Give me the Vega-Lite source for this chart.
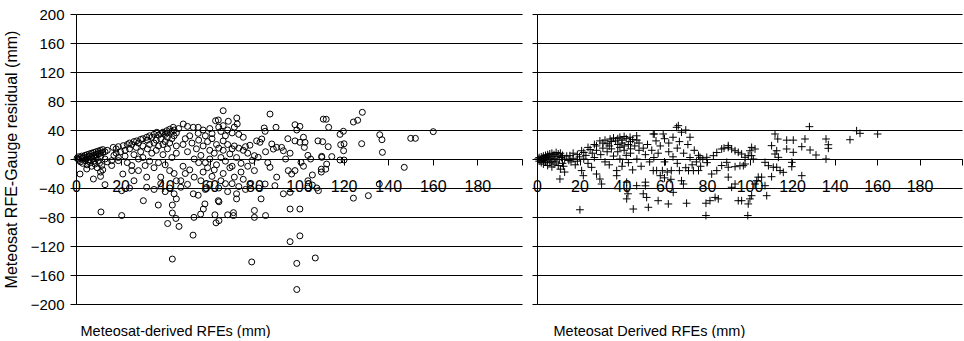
{
"$schema":"https://vega.github.io/schema/vega-lite/v6.json",
"background":"white",
"padding":{"left":3,"top":7,"right":0,"bottom":0},
"spacing":15,
"bounds":"flush",
"config":{"view":{"stroke":null},"font":"Liberation Sans",
"axis":{"labelFont":"Liberation Sans","titleFont":"Liberation Sans","labelFontSize":15,"titleFontSize":14.5,"titleFontWeight":"normal","labelColor":"#000","titleColor":"#000","domainColor":"#000","tickColor":"#000","gridColor":"#000","gridOpacity":1,"grid":false}},
"datasets":{
"L":[
{"x":0.5,"y":1},{"x":1,"y":0},{"x":1,"y":3},{"x":1.5,"y":-2},{"x":2,"y":2},{"x":2,"y":-4},{"x":2.5,"y":4},{"x":3,"y":1},{"x":3,"y":-6},{"x":3.5,"y":3},{"x":4,"y":5},{"x":4,"y":-2},{"x":4.5,"y":0},{"x":5,"y":6},{"x":5,"y":2},{"x":5,"y":-8},{"x":5.5,"y":-3},{"x":6,"y":7},{"x":6,"y":4},{"x":6,"y":-1},{"x":6.5,"y":-5},{"x":7,"y":8},{"x":7,"y":3},{"x":7,"y":-10},{"x":7.5,"y":0},{"x":8,"y":9},{"x":8,"y":5},{"x":8,"y":-3},{"x":8.5,"y":-7},{"x":9,"y":10},{"x":9,"y":6},{"x":9,"y":1},{"x":9.5,"y":-12},{"x":10,"y":11},{"x":10,"y":7},{"x":10,"y":-2},{"x":10.5,"y":-6},{"x":11,"y":12},{"x":11,"y":8},{"x":11,"y":3},{"x":11.5,"y":-9},{"x":12,"y":13},{"x":12,"y":9},{"x":12,"y":-15},{"x":13,"y":10},{"x":13,"y":0},{"x":14,"y":12},{"x":14,"y":-4},{"x":1.8,"y":-20.7},{"x":4.8,"y":-13.8},{"x":7.8,"y":-27.6},{"x":11,"y":-18},{"x":11,"y":-24},{"x":13,"y":-35.4},{"x":11.2,"y":-73},
{"x":16.7,"y":16},{"x":18,"y":14},{"x":19,"y":17},{"x":21.2,"y":18.4},{"x":23,"y":20},{"x":24,"y":22},{"x":25,"y":20},{"x":26,"y":24},{"x":27.2,"y":25},{"x":28,"y":22},{"x":29,"y":27},{"x":30,"y":28},{"x":31.7,"y":30},{"x":32,"y":26},{"x":33,"y":32},{"x":34,"y":30},{"x":35,"y":34},{"x":36.2,"y":36.8},{"x":37,"y":33},{"x":38,"y":35},{"x":39,"y":37},{"x":40,"y":34},{"x":40.7,"y":39},{"x":41,"y":36},{"x":42,"y":41},{"x":43,"y":38},{"x":43.6,"y":43.7},{"x":44,"y":40},{"x":45,"y":36},{"x":46,"y":42},
{"x":16,"y":-2.3},{"x":16,"y":-9},{"x":17,"y":5},{"x":18,"y":8},{"x":19,"y":2},{"x":19,"y":-2.3},{"x":20,"y":10},{"x":21,"y":-20.7},{"x":22,"y":12},{"x":22,"y":4},{"x":23,"y":-5},{"x":25,"y":-9},{"x":25,"y":-16},{"x":24,"y":14},{"x":26,"y":6},{"x":27,"y":16},{"x":28,"y":0},{"x":28,"y":-16},{"x":29,"y":10},{"x":30,"y":18},{"x":30,"y":2},{"x":31,"y":-9},{"x":31.7,"y":-25},{"x":32,"y":14},{"x":33,"y":20},{"x":33,"y":-3},{"x":34,"y":8},{"x":35,"y":22},{"x":35,"y":-12},{"x":36,"y":26},{"x":36,"y":12},{"x":37,"y":18},{"x":37,"y":-5},{"x":38,"y":-25},{"x":38,"y":28},{"x":38,"y":-34},{"x":39,"y":20},{"x":39,"y":6},{"x":40,"y":24},{"x":40,"y":-8},{"x":41,"y":14},{"x":41,"y":30},{"x":42,"y":-16},{"x":42,"y":22},{"x":43,"y":28},{"x":43,"y":2},{"x":44,"y":-20},{"x":44,"y":32},{"x":45,"y":18},{"x":45,"y":-30},{"x":45,"y":8},
{"x":20.5,"y":-43.7},{"x":20.5,"y":-78},{"x":30.2,"y":-57.5},{"x":31.7,"y":-39},{"x":36.9,"y":-63.5},{"x":43.2,"y":-63.5},{"x":43.2,"y":-74.5},{"x":41.1,"y":-89},{"x":44.8,"y":-82},{"x":46.2,"y":-93},{"x":43.2,"y":-138},{"x":42,"y":-40},{"x":44,"y":-48},{"x":45,"y":-55},{"x":47,"y":-30},{"x":47,"y":-39},{"x":40,"y":-45},{"x":35,"y":-42},{"x":26,"y":-30},{"x":24,"y":-40},
{"x":48.1,"y":48.3},{"x":50,"y":45},{"x":52.6,"y":43.7},{"x":54.8,"y":43.7},{"x":54.8,"y":35.4},{"x":57,"y":40},{"x":58,"y":32},{"x":60,"y":42},{"x":61,"y":35},{"x":62.6,"y":52.8},{"x":63.8,"y":53.8},{"x":64,"y":44},{"x":65,"y":38},{"x":66,"y":66.6},{"x":66,"y":46},{"x":67,"y":32},{"x":68.3,"y":52},{"x":68,"y":40},{"x":70,"y":36},{"x":71,"y":44},{"x":72.1,"y":56.6},{"x":72.3,"y":48.3},{"x":73,"y":34},{"x":75,"y":30},{"x":84.4,"y":42.8},{"x":84.8,"y":38.2},{"x":87,"y":62},{"x":89.7,"y":43.7},{"x":98.2,"y":47.3},{"x":100.4,"y":45},{"x":99,"y":40},{"x":110.9,"y":55},
{"x":48,"y":20},{"x":49,"y":28},{"x":50,"y":10},{"x":51,"y":32},{"x":52,"y":22},{"x":53,"y":0},{"x":54,"y":14},{"x":55,"y":26},{"x":56,"y":5},{"x":57,"y":18},{"x":58,"y":-5},{"x":59,"y":24},{"x":60,"y":12},{"x":60,"y":0},{"x":61,"y":28},{"x":62,"y":8},{"x":63,"y":20},{"x":63,"y":-8},{"x":64,"y":15},{"x":65,"y":2},{"x":66,"y":25},{"x":66,"y":12},{"x":67,"y":-3},{"x":68,"y":20},{"x":69,"y":7},{"x":70,"y":14},{"x":70,"y":-10},{"x":71,"y":18},{"x":72,"y":2},{"x":73,"y":15},{"x":74,"y":-6},{"x":75,"y":12},{"x":76,"y":17},{"x":77,"y":8},{"x":78,"y":19},{"x":79,"y":-2},{"x":80,"y":4.6},{"x":81,"y":25},{"x":81.7,"y":2.3},{"x":82.5,"y":23},{"x":83.3,"y":27.6},{"x":85,"y":10},{"x":86,"y":-5},{"x":87.8,"y":20.7},{"x":88.5,"y":13.7},{"x":90,"y":16},{"x":92.2,"y":16},{"x":93,"y":11.4},{"x":94,"y":0},{"x":95,"y":28},{"x":96,"y":8},{"x":98.2,"y":25},{"x":100.4,"y":23},{"x":102,"y":30},{"x":102.7,"y":23},{"x":102.4,"y":16},{"x":104,"y":5},{"x":105.2,"y":0},{"x":108.5,"y":25},{"x":110.2,"y":2.3},{"x":100.9,"y":-4.6},
{"x":48,"y":-10},{"x":49,"y":-20},{"x":50,"y":-35},{"x":51,"y":-15},{"x":52.6,"y":-48},{"x":53,"y":-25},{"x":54.8,"y":-50},{"x":55,"y":-5},{"x":56,"y":-30},{"x":57,"y":-18},{"x":58,"y":-42},{"x":59,"y":-12},{"x":60,"y":-35},{"x":61,"y":-24},{"x":62,"y":-15},{"x":62.3,"y":-77},{"x":63.8,"y":-57.5},{"x":64.1,"y":-59},{"x":64,"y":-40},{"x":65,"y":-30},{"x":66,"y":-20},{"x":67,"y":-34},{"x":68,"y":-45},{"x":68,"y":-77},{"x":69,"y":-12},{"x":70,"y":-34},{"x":70.6,"y":-74},{"x":70.6,"y":-78},{"x":71,"y":-25},{"x":72,"y":-48},{"x":72,"y":-55},{"x":73,"y":-38},{"x":74,"y":-18},{"x":75,"y":-28},{"x":76,"y":-42},{"x":77,"y":-10},{"x":78,"y":-35},{"x":80,"y":-16},{"x":80,"y":-71},{"x":80,"y":-80.5},{"x":82,"y":-40},{"x":83,"y":-55},{"x":84.8,"y":-34.5},{"x":85,"y":-78},{"x":87,"y":-11.5},{"x":89.2,"y":-36.8},{"x":90,"y":-25},{"x":93,"y":-48},{"x":95.2,"y":-16},{"x":96,"y":-46},{"x":96.7,"y":-20.7},{"x":98.2,"y":-16},{"x":96,"y":-69},{"x":100.4,"y":-69},{"x":108.7,"y":-43.7},{"x":110,"y":-14},{"x":104,"y":-30},{"x":106,"y":-36},{"x":52.9,"y":-80.5},{"x":55.9,"y":-76},{"x":57.1,"y":-69},{"x":57.8,"y":-62},{"x":62.8,"y":-88},{"x":64.1,"y":-85},{"x":52.5,"y":-105},{"x":78.8,"y":-142},{"x":96,"y":-114},{"x":100.4,"y":-106},{"x":99,"y":-144},{"x":107.3,"y":-136.5},{"x":99,"y":-180},
{"x":112.2,"y":54.8},{"x":113.3,"y":43.7},{"x":128.4,"y":64.4},{"x":126.3,"y":53.4},{"x":124.4,"y":51},{"x":119.9,"y":38.2},{"x":118.4,"y":34},{"x":110.6,"y":23.9},{"x":113.1,"y":17},{"x":118.7,"y":19.7},{"x":120.2,"y":21},{"x":120,"y":11.4},{"x":128.1,"y":21.1},{"x":136.2,"y":33.5},{"x":137.2,"y":26.6},{"x":137.4,"y":9.2},{"x":150.1,"y":28.5},{"x":152.2,"y":28.5},{"x":160.2,"y":37.7},{"x":147.2,"y":-11.5},{"x":110.2,"y":3.7},{"x":114.7,"y":3.3},{"x":112.4,"y":-7},{"x":112,"y":-14},{"x":110,"y":-18},{"x":118.4,"y":-1.4},{"x":120.2,"y":-1.4},{"x":124.4,"y":-54},{"x":131.1,"y":-50.6},{"x":136,"y":-34.5},{"x":108,"y":-40},{"x":104,"y":-40},{"x":106,"y":-22},{"x":102,"y":-10}
],
"R":[
{"x":0.5,"y":0},{"x":1,"y":2},{"x":1,"y":-3},{"x":1.5,"y":-1},{"x":2,"y":3},{"x":2,"y":-5},{"x":2.5,"y":1},{"x":3,"y":4},{"x":3,"y":-2},{"x":3,"y":-7},{"x":3.5,"y":0},{"x":4,"y":5},{"x":4,"y":-4},{"x":4.5,"y":2},{"x":5,"y":6},{"x":5,"y":-1},{"x":5,"y":-9},{"x":5.5,"y":3},{"x":6,"y":7},{"x":6,"y":-5},{"x":6.5,"y":1},{"x":7,"y":8},{"x":7,"y":-3},{"x":7,"y":-11},{"x":7.5,"y":4},{"x":8,"y":-7},{"x":8,"y":6},{"x":8.5,"y":0},{"x":9,"y":9},{"x":9,"y":-4},{"x":9.5,"y":3},{"x":10,"y":7},{"x":10,"y":-9},{"x":10.5,"y":-1},{"x":11,"y":8},{"x":11,"y":-14},{"x":11.5,"y":2},{"x":12,"y":5},{"x":12,"y":-6},{"x":12.5,"y":-10},{"x":13,"y":0},{"x":13,"y":-18},{"x":10.8,"y":-27.6},{"x":20.2,"y":-70},{"x":14,"y":4},{"x":15,"y":-2},
{"x":15.5,"y":4.6},{"x":17,"y":8},{"x":19,"y":6},{"x":21,"y":11.4},{"x":22,"y":9},{"x":24,"y":16},{"x":25,"y":13},{"x":27,"y":20},{"x":28,"y":18},{"x":29.6,"y":25},{"x":31,"y":22},{"x":32,"y":26},{"x":33,"y":21},{"x":34.4,"y":27.6},{"x":35,"y":24},{"x":36,"y":29},{"x":37,"y":25},{"x":38,"y":28},{"x":39,"y":30},{"x":40,"y":26},{"x":41,"y":31},{"x":42,"y":28},{"x":43.8,"y":30},{"x":44,"y":24},{"x":45,"y":27},{"x":46.9,"y":32},{"x":47,"y":26},
{"x":16,"y":-4},{"x":17,"y":1},{"x":18,"y":-8},{"x":19,"y":-3},{"x":20,"y":3},{"x":21,"y":-16},{"x":21.8,"y":-23},{"x":22,"y":0},{"x":23,"y":5},{"x":24,"y":-6},{"x":25.7,"y":-11.5},{"x":26,"y":8},{"x":27,"y":2},{"x":28,"y":-20.7},{"x":28,"y":12},{"x":29.6,"y":-27.6},{"x":30,"y":6},{"x":30.4,"y":-34.5},{"x":31,"y":15},{"x":32,"y":-4},{"x":33,"y":10},{"x":34,"y":18},{"x":34,"y":-8},{"x":35,"y":14},{"x":36,"y":4},{"x":37.5,"y":-16},{"x":37.5,"y":-23},{"x":38,"y":20},{"x":38,"y":10},{"x":39,"y":16},{"x":39,"y":0},{"x":40,"y":22},{"x":40,"y":-10},{"x":41,"y":12},{"x":41,"y":18},{"x":42,"y":5},{"x":42.2,"y":-32},{"x":42.2,"y":-41},{"x":42.8,"y":-48},{"x":42.2,"y":-55},{"x":43,"y":20},{"x":43,"y":-5},{"x":44,"y":14},{"x":44,"y":8},{"x":45.3,"y":-69},{"x":45,"y":-15},{"x":46,"y":18},{"x":46.9,"y":-36.8},{"x":47,"y":0},{"x":48,"y":12},
{"x":48,"y":22},{"x":49,"y":-10},{"x":50,"y":-48},{"x":51,"y":-32},{"x":51,"y":-37},{"x":51.6,"y":-53},{"x":52.4,"y":-66.6},{"x":50,"y":15},{"x":51,"y":6},{"x":52,"y":20},{"x":53,"y":-4},{"x":54,"y":12},{"x":54.7,"y":34.5},{"x":54.7,"y":-16},{"x":55,"y":2},{"x":56,"y":25},{"x":56.3,"y":-16},{"x":57,"y":-57.5},{"x":57,"y":8},{"x":58,"y":-23},{"x":58,"y":18},{"x":59.4,"y":34.5},{"x":59,"y":-16},{"x":60,"y":-4},{"x":60,"y":28},{"x":60,"y":-26},{"x":61.3,"y":-18},{"x":61.8,"y":-62},{"x":62,"y":10},{"x":62,"y":22},{"x":63.2,"y":-16},{"x":63,"y":-28},{"x":64.1,"y":-46},{"x":64,"y":3},{"x":64,"y":30},{"x":65.7,"y":43.7},{"x":66,"y":15},{"x":66,"y":-6},{"x":67,"y":-16},{"x":67,"y":24},{"x":68,"y":-30},{"x":68,"y":37},{"x":68.9,"y":-34.5},{"x":69,"y":8},{"x":70,"y":40},{"x":70,"y":-12},{"x":70.4,"y":-61},{"x":71,"y":20},{"x":71.3,"y":-16},{"x":72,"y":2},{"x":72,"y":30},{"x":73,"y":-8},{"x":73.6,"y":-16},{"x":74,"y":12},{"x":75,"y":-4},{"x":76,"y":-16},{"x":76,"y":5},{"x":76.7,"y":2.3},{"x":77,"y":-10},{"x":78,"y":0},{"x":79.9,"y":2.3},{"x":79.5,"y":-61},{"x":79.5,"y":-78},{"x":80,"y":-5},{"x":81.4,"y":-57.5},{"x":82.2,"y":-20.7},{"x":83,"y":4.6},{"x":83.8,"y":-53},{"x":84.6,"y":9},{"x":84.6,"y":-16},{"x":85.3,"y":-55},{"x":86.9,"y":13.8},{"x":86.9,"y":-9},{"x":88,"y":15},{"x":89.3,"y":-4.6},{"x":90,"y":16},{"x":90,"y":18.4},{"x":91.6,"y":13.8},{"x":93.2,"y":11.4},{"x":94.7,"y":9.2},{"x":96.3,"y":6.9},{"x":97.9,"y":2.3},{"x":99.4,"y":4.6},{"x":90,"y":-11.4},{"x":93.2,"y":-10.6},{"x":95.5,"y":-9.2},{"x":97.1,"y":-9.2},{"x":97.9,"y":-6.9},{"x":90,"y":-25},{"x":93.2,"y":-34.5},{"x":91.6,"y":-39},{"x":94.7,"y":-57.5},{"x":96.3,"y":-57.5},{"x":99.2,"y":-78},{"x":101,"y":-50.6},{"x":100.2,"y":-55},{"x":99.4,"y":-62},{"x":55.2,"y":34.5},{"x":66.5,"y":46},
{"x":101,"y":16},{"x":102.6,"y":13.8},{"x":100.2,"y":11.4},{"x":101,"y":4.6},{"x":101.8,"y":0},{"x":104.1,"y":-25},{"x":103.4,"y":-30},{"x":102.6,"y":-34.5},{"x":107.3,"y":-36.8},{"x":108.1,"y":-50.6},{"x":107.3,"y":-4.6},{"x":108.9,"y":-9.2},{"x":111.2,"y":-11.4},{"x":112.8,"y":-11.4},{"x":114.4,"y":-16},{"x":115.9,"y":-18.4},{"x":110.4,"y":-24.4},{"x":105.7,"y":-25},{"x":112,"y":34.5},{"x":113.3,"y":27.6},{"x":110.4,"y":18.4},{"x":112.8,"y":11.4},{"x":112,"y":6.9},{"x":113.6,"y":2.3},{"x":119.9,"y":-4.6},{"x":119.9,"y":-10.6},{"x":124.6,"y":-23},{"x":117.5,"y":26},{"x":120.6,"y":26},{"x":117.5,"y":13.8},{"x":120.6,"y":9.2},{"x":126.1,"y":27.6},{"x":124.6,"y":17},{"x":128.5,"y":12.4},{"x":128.2,"y":44.6},{"x":131.3,"y":5.5},{"x":136,"y":27.6},{"x":137.1,"y":19.7},{"x":137.1,"y":14.7},{"x":136,"y":0},{"x":147.3,"y":26.6},{"x":150.4,"y":39},{"x":152,"y":35.4},{"x":160.3,"y":34.5}
]},
"hconcat":[
{"width":446,"height":290,"data":{"name":"L"},
"mark":{"type":"point","shape":"circle","filled":false,"color":"#000","opacity":1,"size":36,"strokeWidth":1},
"encoding":{
"x":{"field":"x","type":"quantitative","scale":{"domain":[0,200],"nice":false,"zero":false},
"axis":{"orient":"bottom","offset":-145,"values":[0,20,40,60,80,100,120,140,160,180,200],"labelExpr":"datum.value==200?'':datum.label","labelFontSize":16,"tickSize":6,"labelPadding":13,"labelFlush":false,"labelOverlap":false,"title":"Meteosat-derived RFEs (mm)","titleX":4,"titleY":172,"titleAlign":"left","titleBaseline":"middle"}},
"y":{"field":"y","type":"quantitative","scale":{"domain":[-200,200],"nice":false,"zero":false},
"axis":{"values":[-200,-160,-120,-80,-40,0,40,80,120,160,200],"grid":true,"tickSize":6,"labelPadding":6,"labelFlush":false,"labelOverlap":false,"title":"Meteosat RFE-Gauge residual (mm)","titleFontSize":16,"titlePadding":11}}
}},
{"width":425,"height":290,"data":{"name":"R"},
"mark":{"type":"point","shape":"M-1,0H1M0,-1V1","filled":false,"color":"#000","opacity":1,"size":60,"strokeWidth":1},
"encoding":{
"x":{"field":"x","type":"quantitative","scale":{"domain":[0,200],"nice":false,"zero":false},
"axis":{"orient":"bottom","offset":-145,"values":[0,20,40,60,80,100,120,140,160,180,200],"labelExpr":"datum.value==200?'':datum.label","labelFontSize":16,"tickSize":6,"labelPadding":13,"labelFlush":false,"labelOverlap":false,"title":"Meteosat Derived RFEs (mm)","titleX":16,"titleY":172,"titleAlign":"left","titleBaseline":"middle"}},
"y":{"field":"y","type":"quantitative","scale":{"domain":[-200,200],"nice":false,"zero":false},
"axis":{"values":[-200,-160,-120,-80,-40,0,40,80,120,160,200],"grid":true,"tickSize":5,"labels":false,"title":null}}
}}
]
}
